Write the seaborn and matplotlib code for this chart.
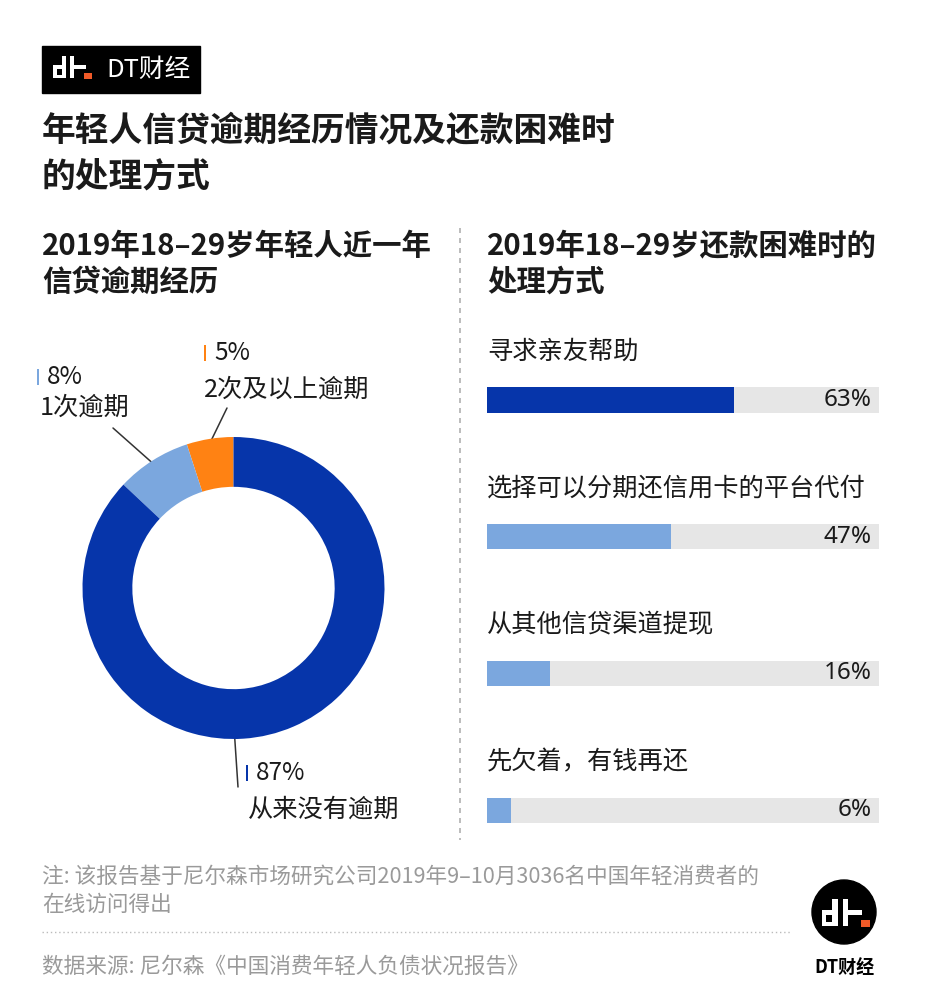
import matplotlib
matplotlib.use("Agg")
import matplotlib.pyplot as plt
from matplotlib.patches import Rectangle, Circle
import seaborn as sns
import pandas as pd

# ---------------- data ----------------
pie_labels = ["2次及以上逾期", "1次逾期", "从来没有逾期"]
pie_values = [5, 8, 87]
pie_colors = ["#FF8213", "#7BA7DE", "#0635AA"]

methods = ["寻求亲友帮助", "选择可以分期还信用卡的平台代付", "从其他信贷渠道提现", "先欠着，有钱再还"]
method_pcts = [63, 47, 16, 6]
method_colors = ["#0635AA", "#7BA7DE", "#7BA7DE", "#7BA7DE"]

title_lines = ["年轻人信贷逾期经历情况及还款困难时", "的处理方式"]
left_sub = ["2019年18–29岁年轻人近一年", "信贷逾期经历"]
right_sub = ["2019年18–29岁还款困难时的", "处理方式"]
note_lines = ["注: 该报告基于尼尔森市场研究公司2019年9–10月3036名中国年轻消费者的", "在线访问得出"]
source_text = "数据来源: 尼尔森《中国消费年轻人负债状况报告》"
brand = "DT财经"

# ---------------- style ----------------
sns.set_theme(style="white")
plt.rcParams["font.family"] = ["Noto Sans CJK SC", "DejaVu Sans"]

W, H = 928, 1000
fig = plt.figure(figsize=(W / 100, H / 100), dpi=100)
fig.patch.set_facecolor("white")

# overlay axes in pixel coordinates
ov = fig.add_axes([0, 0, 1, 1])
ov.set_xlim(0, W)
ov.set_ylim(H, 0)
ov.axis("off")
ov.patch.set_alpha(0)

TXT = "#1a1a1a"
GRAY = "#9a9a9a"

# ---- top logo ----
ov.add_patch(Rectangle((42, 46), 158, 47, color="black", zorder=2))


def draw_mark(x0, y0, s):
    rects = [
        (0, 9.3, 12.7, 12.7, "white"),
        (3.4, 13.3, 5.0, 5.4, "black"),
        (8.4, 0, 4.3, 22, "white"),
        (16.7, 0, 4.3, 22, "white"),
        (21, 9.3, 11.4, 4.0, "white"),
        (31, 17, 7.4, 5.7, "#F05A28"),
    ]
    for rx, ry, rw, rh, c in rects:
        ov.add_patch(Rectangle((x0 + rx * s, y0 + ry * s), rw * s, rh * s,
                               color=c, zorder=4, lw=0))


draw_mark(53.3, 56, 1.0)
ov.text(106, 70, brand, color="white", fontsize=18.5, va="center", ha="left", zorder=5)

# ---- titles ----
ov.text(42, 131, title_lines[0], fontsize=24.3, fontweight="bold", color=TXT, va="center")
ov.text(42, 176, title_lines[1], fontsize=24.3, fontweight="bold", color=TXT, va="center")

ov.text(42, 246, left_sub[0], fontsize=21.2, fontweight="bold", color=TXT, va="center")
ov.text(42, 282, left_sub[1], fontsize=21.2, fontweight="bold", color=TXT, va="center")
ov.text(487, 246, right_sub[0], fontsize=21.2, fontweight="bold", color=TXT, va="center")
ov.text(487, 282, right_sub[1], fontsize=21.2, fontweight="bold", color=TXT, va="center")

# vertical dashed divider
ov.plot([460, 460], [228, 840], color="#b0b0b0", lw=1.2, ls=(0, (3, 3)))

# ---- donut ----
cx, cy, R = 233.5, 588, 151
axp = fig.add_axes([(cx - R) / W, 1 - (cy + R) / H, 2 * R / W, 2 * R / H])
axp.pie(pie_values, colors=pie_colors, startangle=90, counterclock=True,
        radius=1, wedgeprops=dict(width=0.33, linewidth=0))
axp.set_xlim(-1, 1)
axp.set_ylim(-1, 1)
axp.set_aspect("equal")
axp.axis("off")

# leader lines
ov.plot([227, 208], [408, 447], color="#333333", lw=1.1, zorder=6)
ov.plot([113, 157], [428, 467], color="#333333", lw=1.1, zorder=6)
ov.plot([234, 238], [727, 787], color="#333333", lw=1.1, zorder=6)

# donut labels
lab_pos = [
    # marker x, pct y, label x, label y
    (205, 353, 204, 390),
    (38, 377, 40, 408),
    (247, 773, 248, 810),
]
for (mx, py, lx, ly), lab, val, col in zip(lab_pos, pie_labels, pie_values, pie_colors):
    ov.add_patch(Rectangle((mx - 1.2, py - 8), 2.6, 16, color=col, lw=0))
    ov.text(mx + 9, py, f"{val}%", fontsize=17.5, color=TXT, va="center", ha="left")
    ov.text(lx, ly, lab, fontsize=18.2, color=TXT, va="center", ha="left")

# ---- bars ----
row_h = 136.67
top = 400 - row_h / 2
axb = fig.add_axes([487 / W, 1 - (top + 4 * row_h) / H, 392 / W, 4 * row_h / H])
df = pd.DataFrame({"method": methods, "pct": method_pcts, "full": [100] * len(methods)})
sns.barplot(data=df, x="full", y="method", color="#E6E6E6", saturation=1,
            width=0.183, ax=axb, linewidth=0)
sns.barplot(data=df, x="pct", y="method", hue="method", palette=method_colors,
            saturation=1, width=0.183, legend=False, ax=axb, linewidth=0)
axb.set_xlim(0, 100)
axb.set_ylim(3.5, -0.5)
axb.axis("off")
for i, (m, p) in enumerate(zip(methods, method_pcts)):
    axb.text(0, i - 0.35, m, fontsize=18.2, color=TXT, va="center", ha="left")
    axb.text(98.2, i, f"{p}%", fontsize=17.5, color=TXT, va="center", ha="right",
             family=["Noto Sans", "DejaVu Sans"], fontweight="light")

# ---- notes ----
ov.text(42, 877, note_lines[0], fontsize=15.6, color=GRAY, va="center")
ov.text(42, 905, note_lines[1], fontsize=15.6, color=GRAY, va="center")
ov.plot([42, 790], [932, 932], color="#bbbbbb", lw=1, ls=(0, (1, 2)))
ov.text(42, 967, source_text, fontsize=15.6, color=GRAY, va="center")

# ---- bottom logo ----
ov.add_patch(Circle((844, 912), 32, color="black", zorder=2))
draw_mark(822, 898.5, 1.25)
ov.text(844, 968, brand, fontsize=13, color="black", va="center", ha="center",
        fontweight="bold")

fig.savefig("out.png", dpi=100, facecolor="white")
